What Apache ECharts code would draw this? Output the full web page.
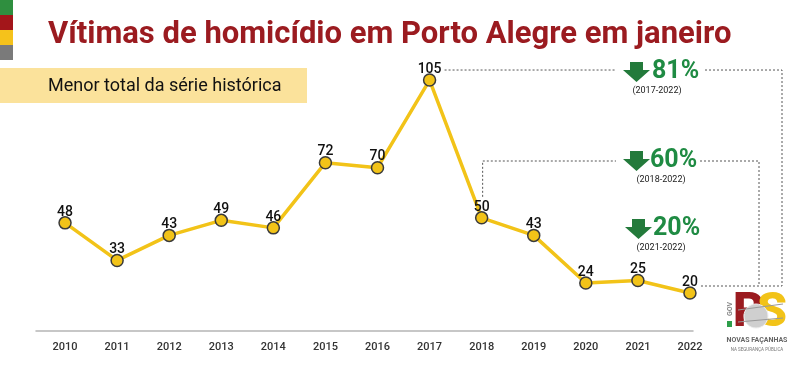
<!DOCTYPE html>
<html>
<head>
<meta charset="utf-8">
<script src="https://cdn.jsdelivr.net/npm/echarts@6/dist/echarts.min.js"></script>
<style>
html,body{margin:0;padding:0;background:#fff;}
#c{width:800px;height:366px;}
</style>
</head>
<body>
<div id="c"></div>
<script>
const years = ['2010','2011','2012','2013','2014','2015','2016','2017','2018','2019','2020','2021','2022'];
const values = [48,33,43,49,46,72,70,105,50,43,24,25,20];
const annPct = ['81%','60%','20%'];
const annRange = ['(2017-2022)','(2018-2022)','(2021-2022)'];
const annFrom = ['2017','2018','2021'];
const annTo = '2022';
const titleText = 'Vítimas de homicídio em Porto Alegre em janeiro';
const subtitleText = 'Menor total da série histórica';

const FONT = 'Roboto';
const chart = echarts.init(document.getElementById('c'), null, {renderer:'canvas'});

const option = {
  animation: false,
  backgroundColor: '#fff',
  textStyle: {fontFamily: FONT},
  title: {
    text: titleText,
    left: 43, top: 15,
    textStyle: {fontFamily: FONT, fontSize: 31, fontWeight: 'bold', color: '#9b1b20'}
  },
  grid: [
    {left: 39, right: 84, top: 67.5, bottom: 35.4},
    {left: 36, right: 107, top: 67.5, bottom: 35.4}
  ],
  xAxis: [
    {type: 'category', gridIndex: 0, data: years, boundaryGap: true,
     axisLine: {show: false}, axisTick: {show: false},
     axisLabel: {fontFamily: FONT, fontSize: 11, fontWeight: 500, color: '#333', margin: 11}},
    {type: 'value', gridIndex: 1, min: 0, max: 1,
     axisLine: {show: true, lineStyle: {color: '#b5b5b5', width: 1.5}},
     axisTick: {show: false}, axisLabel: {show: false}, splitLine: {show: false}}
  ],
  yAxis: [
    {type: 'value', gridIndex: 0, min: 5, max: 110, show: false, splitLine: {show: false}},
    {type: 'value', gridIndex: 1, min: 0, max: 1, show: false, splitLine: {show: false}}
  ],
  series: [{
    type: 'line', xAxisIndex: 0, yAxisIndex: 0,
    data: values,
    symbol: 'circle', symbolSize: 12,
    lineStyle: {color: '#f2c318', width: 3.5},
    itemStyle: {color: '#f2c318', borderColor: '#3a3a3a', borderWidth: 1.5},
    label: {show: true, position: 'top', distance: 0, offset: [0, 3],
      fontFamily: FONT, fontSize: 14, fontWeight: 500, color: '#111'},
    z: 5
  }]
};
chart.setOption(option);

function px(year, v){
  return chart.convertToPixel({xAxisIndex: 0, yAxisIndex: 0}, [year, v]);
}
function valOf(y){ return values[years.indexOf(y)]; }

const dash = {stroke: '#555', lineWidth: 1, lineDash: [2, 2]};
const g = [];
// left color bars
const barCols = ['#2f8f3f', '#a3161a', '#f5c21b', '#7a7a7a'];
barCols.forEach((c, i) => g.push({type: 'rect', shape: {x: 0, y: i * 15, width: 13, height: 15}, style: {fill: c}}));
// subtitle box
g.push({type: 'rect', shape: {x: 0, y: 68, width: 307, height: 35}, style: {fill: '#fbe29b'}});
g.push({type: 'text', x: 48, y: 86, style: {text: subtitleText, fontFamily: FONT, fontSize: 18, fill: '#111', verticalAlign: 'middle'}});

// annotations
const pTo = px(annTo, valOf(annTo));
const pA = px(annFrom[0], valOf(annFrom[0]));
const pB = px(annFrom[1], valOf(annFrom[1]));
const yEnd = pTo[1] - 7;
// outer (2017)
g.push({type: 'polyline', shape: {points: [[pA[0] + 15, pA[1] - 10], [616, pA[1] - 10]]}, style: dash});
g.push({type: 'polyline', shape: {points: [[705, pA[1] - 10], [782, pA[1] - 10], [782, yEnd], [pTo[0] + 10, yEnd]]}, style: dash});
// inner (2018)
g.push({type: 'polyline', shape: {points: [[pB[0] + 1, pB[1] - 21], [pB[0] + 1, 161], [616, 161]]}, style: dash});
g.push({type: 'polyline', shape: {points: [[700, 161], [759, 161], [759, yEnd]]}, style: dash});

const blocks = [
  {ax: 623, ay: 62, tx: 652, ty: 72, rx: 657, ry: 91},
  {ax: 623, ay: 151, tx: 650, ty: 161, rx: 661, ry: 180},
  {ax: 625, ay: 219, tx: 653, ty: 229, rx: 661, ry: 248}
];
blocks.forEach((b, i) => {
  const x0 = b.ax, y0 = b.ay;
  g.push({type: 'polygon', shape: {points: [[x0 + 7, y0], [x0 + 20, y0], [x0 + 20, y0 + 8], [x0 + 27, y0 + 8], [x0 + 13.5, y0 + 20], [x0, y0 + 8], [x0 + 7, y0 + 8]]}, style: {fill: '#237a3b'}});
  g.push({type: 'text', x: b.tx, y: b.ty, style: {text: annPct[i], fontFamily: FONT, fontSize: 25, fontWeight: 'bold', fill: '#1f8b43', verticalAlign: 'middle'}});
  g.push({type: 'text', x: b.rx, y: b.ry, style: {text: annRange[i], fontFamily: FONT, fontSize: 9, fill: '#222', align: 'center', verticalAlign: 'middle'}});
});

// logo
g.push({type: 'rect', shape: {x: 727, y: 321, width: 5, height: 6}, style: {fill: '#2e9e4a'}});
g.push({type: 'text', x: 730, y: 309, rotation: Math.PI / 2, style: {text: 'GOV', fontFamily: FONT, fontSize: 7, fontWeight: 'bold', fill: '#888', align: 'center', verticalAlign: 'middle'}});
g.push({type: 'text', x: 733, y: 314, style: {text: 'R', fontFamily: FONT, fontSize: 48, fontWeight: 900, fill: '#9b1b20', verticalAlign: 'middle'}});
g.push({type: 'text', x: 757, y: 314, style: {text: 'S', fontFamily: FONT, fontSize: 48, fontWeight: 900, fill: '#f2c318', verticalAlign: 'middle'}});
g.push({type: 'ellipse', shape: {cx: 756, cy: 316, rx: 12, ry: 12}, style: {fill: '#cfcfcf', stroke: '#eee', lineWidth: 1}});
g.push({type: 'line', shape: {x1: 738, y1: 310, x2: 783, y2: 304}, style: {stroke: '#999', lineWidth: 1}});
g.push({type: 'line', shape: {x1: 738, y1: 322, x2: 783, y2: 318}, style: {stroke: '#999', lineWidth: 1}});
g.push({type: 'text', x: 757, y: 340, style: {text: 'NOVAS FAÇANHAS', fontFamily: FONT, fontSize: 7, fontWeight: 'bold', fill: '#666', align: 'center', verticalAlign: 'middle'}});
g.push({type: 'text', x: 757, y: 350, style: {text: 'NA SEGURANÇA PÚBLICA', fontFamily: FONT, fontSize: 4.5, fill: '#777', align: 'center', verticalAlign: 'middle'}});

chart.setOption({graphic: {elements: g}});
</script>
</body>
</html>
